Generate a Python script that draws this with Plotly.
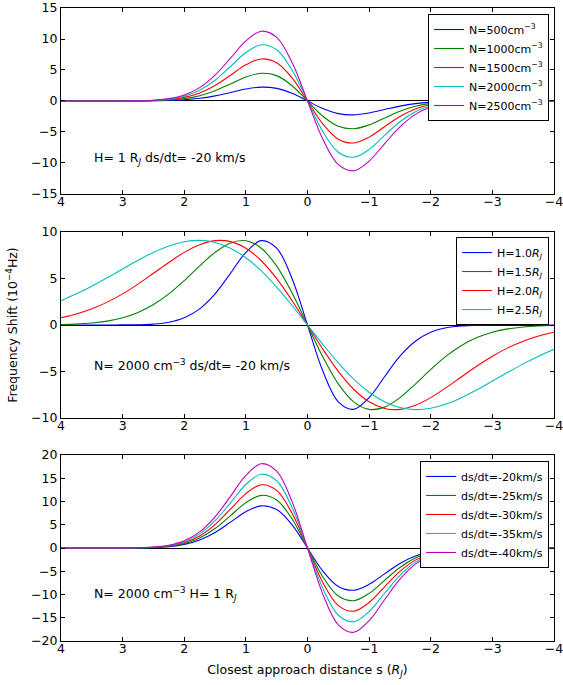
import plotly.graph_objects as go
from plotly.subplots import make_subplots

# shared sample positions (closest approach distance, R_J)
S = [-4, -3.75, -3.5, -3.25, -3, -2.75, -2.5, -2.25, -2, -1.75, -1.5, -1.25, -1, -0.75, -0.5, -0.25,
     0, 0.25, 0.5, 0.75, 1, 1.25, 1.5, 1.75, 2, 2.25, 2.5, 2.75, 3, 3.25, 3.5, 3.75, 4]

# Panel 1: varying density, H = 1 R_J, ds/dt = -20 km/s
N500 = [0, 0, 0, 0, 0, -0.01, -0.03, -0.07, -0.19, -0.43, -0.83, -1.37, -1.93, -2.24, -2.04, -1.23,
        0, 1.23, 2.04, 2.24, 1.93, 1.37, 0.83, 0.43, 0.19, 0.07, 0.03, 0.01, 0, 0, 0, 0, 0]
N1000 = [0, 0, 0, 0, 0, -0.01, -0.05, -0.15, -0.38, -0.86, -1.66, -2.75, -3.86, -4.48, -4.09, -2.46,
         0, 2.46, 4.09, 4.48, 3.86, 2.75, 1.66, 0.86, 0.38, 0.15, 0.05, 0.01, 0, 0, 0, 0, 0]
N1500 = [0, 0, 0, 0, -0.01, -0.02, -0.08, -0.23, -0.58, -1.30, -2.51, -4.15, -5.83, -6.78, -6.17, -3.72,
         0, 3.72, 6.17, 6.78, 5.83, 4.15, 2.51, 1.30, 0.58, 0.23, 0.08, 0.02, 0.01, 0, 0, 0, 0]
N2000 = [0, 0, 0, 0, -0.01, -0.03, -0.10, -0.30, -0.78, -1.74, -3.35, -5.56, -7.81, -9.07, -8.26, -4.98,
         0, 4.98, 8.26, 9.07, 7.81, 5.56, 3.35, 1.74, 0.78, 0.30, 0.10, 0.03, 0.01, 0, 0, 0, 0]
N2500 = [0, 0, 0, 0, -0.01, -0.04, -0.13, -0.38, -0.97, -2.16, -4.17, -6.90, -9.69, -11.26, -10.26, -6.19,
         0, 6.19, 10.26, 11.26, 9.69, 6.90, 4.17, 2.16, 0.97, 0.38, 0.13, 0.04, 0.01, 0, 0, 0, 0]

# Panel 2: varying scale height, N = 2000 cm^-3, ds/dt = -20 km/s
H10 = [0, 0, 0, 0, -0.01, -0.03, -0.10, -0.30, -0.78, -1.74, -3.35, -5.56, -7.81, -9.07, -8.26, -4.98,
       0, 4.98, 8.26, 9.07, 7.81, 5.56, 3.35, 1.74, 0.78, 0.30, 0.10, 0.03, 0.01, 0, 0, 0, 0]
H15 = [-0.05, -0.10, -0.21, -0.42, -0.78, -1.35, -2.20, -3.35, -4.78, -6.35, -7.81, -8.83, -9.07, -8.26, -6.33, -3.44,
       0, 3.44, 6.33, 8.26, 9.07, 8.83, 7.81, 6.35, 4.78, 3.35, 2.20, 1.35, 0.78, 0.42, 0.21, 0.10, 0.05]
H20 = [-0.78, -1.18, -1.74, -2.46, -3.35, -4.40, -5.56, -6.73, -7.81, -8.63, -9.07, -8.97, -8.26, -6.91, -4.98, -2.61,
       0, 2.61, 4.98, 6.91, 8.26, 8.97, 9.07, 8.63, 7.81, 6.73, 5.56, 4.40, 3.35, 2.46, 1.74, 1.18, 0.78]
H25 = [-2.62, -3.35, -4.18, -5.09, -6.03, -6.96, -7.81, -8.50, -8.95, -9.10, -8.88, -8.26, -7.23, -5.82, -4.08, -2.10,
       0, 2.10, 4.08, 5.82, 7.23, 8.26, 8.88, 9.10, 8.95, 8.50, 7.81, 6.96, 6.03, 5.09, 4.18, 3.35, 2.62]

# Panel 3: varying velocity, N = 2000 cm^-3, H = 1 R_J
V20 = [0, 0, 0, 0, -0.01, -0.03, -0.10, -0.30, -0.78, -1.74, -3.35, -5.56, -7.81, -9.07, -8.26, -4.98,
       0, 4.98, 8.26, 9.07, 7.81, 5.56, 3.35, 1.74, 0.78, 0.30, 0.10, 0.03, 0.01, 0, 0, 0, 0]
V25 = [0, 0, 0, 0, -0.01, -0.04, -0.13, -0.38, -0.97, -2.17, -4.19, -6.95, -9.76, -11.33, -10.33, -6.23,
       0, 6.23, 10.33, 11.33, 9.76, 6.95, 4.19, 2.17, 0.97, 0.38, 0.13, 0.04, 0.01, 0, 0, 0, 0]
V30 = [0, 0, 0, 0, -0.01, -0.05, -0.15, -0.45, -1.17, -2.60, -5.03, -8.34, -11.71, -13.60, -12.39, -7.47,
       0, 7.47, 12.39, 13.60, 11.71, 8.34, 5.03, 2.60, 1.17, 0.45, 0.15, 0.05, 0.01, 0, 0, 0, 0]
V35 = [0, 0, 0, 0, -0.01, -0.05, -0.18, -0.53, -1.36, -3.04, -5.87, -9.73, -13.66, -15.87, -14.46, -8.72,
       0, 8.72, 14.46, 15.87, 13.66, 9.73, 5.87, 3.04, 1.36, 0.53, 0.18, 0.05, 0.01, 0, 0, 0, 0]
V40 = [0, 0, 0, 0, -0.02, -0.06, -0.21, -0.60, -1.55, -3.47, -6.71, -11.12, -15.61, -18.13, -16.52, -9.97,
       0, 9.97, 16.52, 18.13, 15.61, 11.12, 6.71, 3.47, 1.55, 0.60, 0.21, 0.06, 0.02, 0, 0, 0, 0]

LABELS1 = ["N=500cm<sup>−3</sup>", "N=1000cm<sup>−3</sup>", "N=1500cm<sup>−3</sup>",
           "N=2000cm<sup>−3</sup>", "N=2500cm<sup>−3</sup>"]
LABELS2 = ["H=1.0<i>R<sub>J</sub></i>", "H=1.5<i>R<sub>J</sub></i>",
           "H=2.0<i>R<sub>J</sub></i>", "H=2.5<i>R<sub>J</sub></i>"]
LABELS3 = ["ds/dt=-20km/s", "ds/dt=-25km/s", "ds/dt=-30km/s", "ds/dt=-35km/s", "ds/dt=-40km/s"]

X_TICKS = [4, 3, 2, 1, 0, -1, -2, -3, -4]
Y1_TICKS = [-15, -10, -5, 0, 5, 10, 15]
Y2_TICKS = [-10, -5, 0, 5, 10]
Y3_TICKS = [-20, -15, -10, -5, 0, 5, 10, 15, 20]

COLORS = ["#0000ff", "#008000", "#ff0000", "#00bfbf", "#bf00bf"]
FONT = "DejaVu Sans"

fig = make_subplots(rows=3, cols=1)

panels = [
    ([N500, N1000, N1500, N2000, N2500], LABELS1, "legend"),
    ([H10, H15, H20, H25], LABELS2, "legend2"),
    ([V20, V25, V30, V35, V40], LABELS3, "legend3"),
]
for r, (series, labels, leg) in enumerate(panels, start=1):
    for i, (ys, lab) in enumerate(zip(series, labels)):
        fig.add_trace(go.Scatter(x=S, y=ys, mode="lines", name=lab, legend=leg,
                                 line=dict(color=COLORS[i], width=1.1, shape="spline", smoothing=1.0)),
                      row=r, col=1)

domains = [[0.7062, 1.0], [0.3523, 0.6461], [0.0, 0.2938]]
yranges = [[-15, 15], [-10, 10], [-20, 20]]
yticks = [Y1_TICKS, Y2_TICKS, Y3_TICKS]
axis_common = dict(showline=True, linecolor="black", linewidth=1, mirror="ticks",
                   ticks="inside", ticklen=4, tickwidth=1, tickcolor="black",
                   showgrid=False, automargin=False,
                   tickfont=dict(family=FONT, size=12.5, color="black"))
for r in range(1, 4):
    fig.update_xaxes(range=[4, -4], tickvals=X_TICKS, ticklabeloverflow="allow",
                     zeroline=False, ticklabelstandoff=-4, **axis_common, row=r, col=1)
    fig.update_yaxes(range=yranges[r - 1], tickvals=yticks[r - 1], domain=domains[r - 1],
                     zeroline=True, zerolinecolor="black", zerolinewidth=1,
                     **axis_common, row=r, col=1)

fig.update_yaxes(title=dict(text="Frequency Shift (10<sup>−4</sup>Hz)",
                            font=dict(family=FONT, size=12.5, color="black"), standoff=10),
                 row=2, col=1)
fig.update_xaxes(title=dict(text="Closest approach distance s (<i>R<sub>J</sub></i>)",
                            font=dict(family=FONT, size=12.5, color="black"), standoff=10),
                 row=3, col=1)

ann_font = dict(family=FONT, size=12.5, color="black")
fig.add_annotation(x=3.5, y=-9.24, xref="x", yref="y", xanchor="left", yanchor="middle",
                   text="H= 1 R<sub><i>J</i></sub> ds/dt= -20 km/s", showarrow=False, font=ann_font)
fig.add_annotation(x=3.5, y=-4.35, xref="x2", yref="y2", xanchor="left", yanchor="middle",
                   text="N= 2000 cm<sup>−3</sup> ds/dt= -20 km/s", showarrow=False, font=ann_font)
fig.add_annotation(x=3.5, y=-9.9, xref="x3", yref="y3", xanchor="left", yanchor="middle",
                   text="N= 2000 cm<sup>−3</sup> H= 1 R<sub><i>J</i></sub>", showarrow=False, font=ann_font)

leg_common = dict(bgcolor="white", bordercolor="black", borderwidth=1,
                  font=dict(family=FONT, size=11, color="black"),
                  xanchor="right", yanchor="top", x=0.99, itemwidth=30, tracegroupgap=0)
fig.update_layout(
    width=563, height=685,
    margin=dict(l=61, r=9, t=8, b=44),
    plot_bgcolor="white", paper_bgcolor="white",
    font=dict(family=FONT, size=12, color="black"),
    showlegend=True,
    legend=dict(y=0.9905, **leg_common),
    legend2=dict(y=0.6382, **leg_common),
    legend3=dict(y=0.2844, **leg_common),
)

fig.write_html("out.html", config={"displayModeBar": False},
               post_script="document.body.style.margin='0';document.body.style.padding='0';")
